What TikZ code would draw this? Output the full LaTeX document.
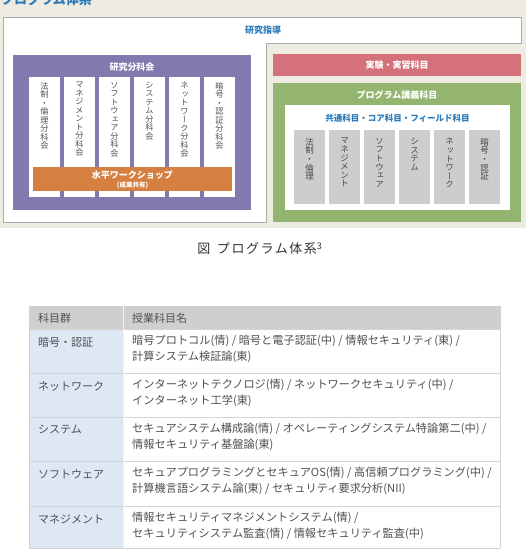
\documentclass[tikz,border=0pt]{standalone}
\usepackage{fontspec}
\setmainfont{Noto Sans CJK JP}
\newfontfamily\vcjk[RawFeature=+vert]{Noto Sans CJK JP}
\newfontfamily\capfont[LetterSpace=12]{Noto Sans CJK JP}
\definecolor{beige}{HTML}{EEEBE3}
\definecolor{frame}{HTML}{AAAAAA}
\definecolor{kpurple}{HTML}{8479AE}
\definecolor{korange}{HTML}{D58040}
\definecolor{kred}{HTML}{D4717A}
\definecolor{kgreen}{HTML}{93B570}
\definecolor{kgray}{HTML}{CDCDCD}
\definecolor{kblue}{HTML}{2B7BBA}
\definecolor{ktext}{HTML}{505050}
\definecolor{thead}{HTML}{CFCFCF}
\definecolor{tleft}{HTML}{DEE8F4}
\definecolor{tline}{HTML}{D4D4D4}
\begin{document}
\begin{tikzpicture}[x=1pt,y=-1pt,
  boxtitle/.style={text=white,font=\bfseries\fontsize{9}{10}\selectfont,inner sep=0},
  bluetitle/.style={text=kblue,font=\bfseries\fontsize{9}{10}\selectfont,inner sep=0},
  vleft/.style={anchor=north,align=center,inner sep=0,text=ktext,font=\vcjk\fontsize{8.2}{8.5}\selectfont},
  vright/.style={anchor=north,align=center,inner sep=0,text=ktext!90!black,font=\vcjk\fontsize{8.5}{8.6}\selectfont},
  tcell/.style={anchor=west,inner sep=0,text=ktext,font=\fontsize{11}{16}\selectfont},
  tbody/.style={anchor=north west,align=left,inner sep=0,text=ktext,font=\fontsize{11.2}{16}\selectfont}]
\useasboundingbox (0,0) rectangle (526,550);
\clip (0,0) rectangle (526,550);
\fill[white] (0,0) rectangle (526,550);
\fill[beige] (0,0) rectangle (526,228);
\node[anchor=base west,inner sep=0,text=kblue,font=\bfseries\fontsize{13}{14}\selectfont] (ttl) at (1,4) {プログラム体系};
% white L-shaped frame
\draw[frame,fill=white,line width=0.8pt] (3,17) -- (521,17) -- (521,43) -- (266,43) -- (266,222) -- (3,222) -- cycle;
\node[bluetitle] (shido) at (263,30) {研究指導};
% left: research subcommittees
\fill[kpurple] (13,55) rectangle (251,210);
\node[boxtitle] (bunka) at (132,67) {研究分科会};
\foreach \x/\t/\n in {29/{法\\制\\・\\倫\\理\\分\\科\\会}/a,
                      64/{マ\\ネ\\ジ\\メ\\ン\\ト\\分\\科\\会}/b,
                      99/{ソ\\フ\\ト\\ウ\\ェ\\ア\\分\\科\\会}/c,
                      134/{シ\\ス\\テ\\ム\\分\\科\\会}/d,
                      169/{ネ\\ッ\\ト\\ワ\\ー\\ク\\分\\科\\会}/e,
                      204/{暗\\号\\・\\認\\証\\分\\科\\会}/f}{
  \fill[white] (\x,77) rectangle ++(31,120);
  \node[vleft] (L\n) at (\x+15.5,82) {\t};
}
\fill[korange] (33,167) rectangle (232,191);
\node[boxtitle] (ws) at (132.5,175) {水平ワークショップ};
\node[boxtitle,font=\bfseries\fontsize{6.5}{7}\selectfont] (ws2) at (132.5,185) {(成果共有)};
% right
\fill[kred] (273,54) rectangle (521,76);
\node[boxtitle] (jikken) at (397,65) {実験・実習科目};
\fill[kgreen] (273,83) rectangle (521,222);
\node[boxtitle] (kogi) at (397,95) {プログラム講義科目};
\fill[white] (285,105) rectangle (510,210);
\node[bluetitle,font=\bfseries\fontsize{8.5}{10}\selectfont] (kyotsu) at (397.5,118) {共通科目・コア科目・フィールド科目};
\foreach \x/\t/\n in {294/{法\\制\\・\\倫\\理}/a,
                      329/{マ\\ネ\\ジ\\メ\\ン\\ト}/b,
                      364/{ソ\\フ\\ト\\ウ\\ェ\\ア}/c,
                      399/{シ\\ス\\テ\\ム}/d,
                      434/{ネ\\ッ\\ト\\ワ\\ー\\ク}/e,
                      469/{暗\\号\\・\\認\\証}/f}{
  \fill[kgray] (\x,130) rectangle ++(31,74);
  \node[vright] (R\n) at (\x+15.5,138) {\t};
}
% caption
\node[inner sep=0,text=black!80,font=\capfont\fontsize{13}{14}\selectfont] (cap) at (260,249) {図\hspace{0.5em}プログラム体系\textsuperscript{3}};
% table
\fill[thead] (29,306) rectangle (500,329);
\fill[tleft] (29,329) rectangle (123,548);
\foreach \y in {329,373,417,461,506}{\draw[tline,line width=0.8pt] (29,\y) -- (500,\y);}
\draw[tline,line width=0.8pt] (29,548) -- (500,548);
\draw[tline,line width=0.8pt] (500,306) -- (500,548);
\draw[tline,line width=0.8pt] (29,306) -- (29,548);
\draw[white!70!tline,line width=0.8pt] (123,306) -- (123,548);
\node[tcell] (h1) at (38,318) {科目群};
\node[tcell] (h2) at (132,318) {授業科目名};
\node[tcell] (c1) at (38,342) {暗号・認証};
\node[tbody] (d1) at (132,335) {暗号プロトコル(情) / 暗号と電子認証(中) / 情報セキュリティ(東) /\\計算システム検証論(東)};
\node[tcell] (c2) at (38,386) {ネットワーク};
\node[tbody] (d2) at (132,379) {インターネットテクノロジ(情) / ネットワークセキュリティ(中) /\\インターネット工学(東)};
\node[tcell] (c3) at (38,430) {システム};
\node[tbody] (d3) at (132,423) {セキュアシステム構成論(情) / オペレーティングシステム特論第二(中) /\\情報セキュリティ基盤論(東)};
\node[tcell] (c4) at (38,474) {ソフトウェア};
\node[tbody] (d4) at (132,467) {セキュアプログラミングとセキュアOS(情) / 高信頼プログラミング(中) /\\計算機言語システム論(東) / セキュリティ要求分析(NII)};
\node[tcell] (c5) at (38,519) {マネジメント};
\node[tbody] (d5) at (132,512) {情報セキュリティマネジメントシステム(情) /\\セキュリティシステム監査(情) / 情報セキュリティ監査(中)};
\end{tikzpicture}
\end{document}
